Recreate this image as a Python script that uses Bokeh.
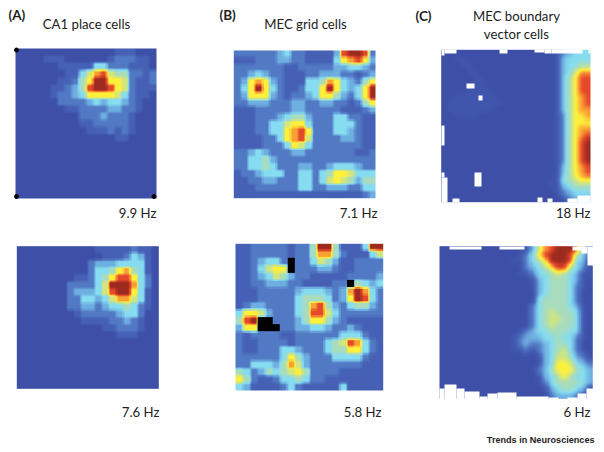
import numpy as np
from bokeh.core.properties import value
from bokeh.embed import file_html
from bokeh.models import LinearColorMapper, Range1d
from bokeh.plotting import figure
from bokeh.resources import INLINE

# Firing-rate maps: 0 (lowest) .. a (peak), k = black (no data)
A1 = ["00000000000000111000", "00001110000001222110", "00000011111442221110",
      "00000001146896552212", "00000011257aa7762112", "00000112359aa9762111",
      "00000122347777642110", "00000022223434432100", "00000001122223322100",
      "00000000022232221000", "00000000011222221000", "00000000001112121000",
      "00000000000000110000", "00000000000000000000", "00000000000000000000",
      "00000000000000000000", "00000000000000000000", "00000000000000000000",
      "00000000000000000000", "00000000000000000000", "00000000000000000000"]
A2 = ["00000000000111112110", "00000000000011124310", "00000000002333444410",
      "00000000002445785410", "00000000112457997420", "0000000222246aaa8420",
      "00000002333469aa7410", "00000002244346886410", "00000002233234454210",
      "00000000122222344200", "00000000011112232100", "00000000000011222100",
      "00000000000000111000", "00000000000000000000", "00000000000000000000",
      "00000000000000000000", "00000000000000000000", "00000000000000000000",
      "00000000000000000000", "00000000000000000000"]
B1 = ["2222223422111139aa92", "11122233221111478973", "22222221122222334432",
      "22343221112233322123", "23787321114458743257", "247a742112447a74347a",
      "2377732122347753247a", "22333222332233221257", "11122222332222211123",
      "11122234553222442211", "11122446774222444211", "11122447897222443211",
      "11112247896222233211", "11112224764222222211", "22343222332222222112",
      "22445322222222222222", "22445422233223444322", "12234442244245776444",
      "11223322244246765355", "11122222244223332244", "11111111111111111123"]
B2 = ["11222221225aa51114aa", "11222221225885211146", "1123442k224653112222",
      "1124677k222332112222", "11234653221111122223", "112233322111122k5434",
      "1112222234443238a842", "1112222245554237a942", "12332222458953245532",
      "47763222459964222222", "59akk222357753211111", "377kkk22334432232111",
      "21222211222222444211", "21122221222245698421", "21122244322245577421",
      "22222247532224444211", "22444358632222222111", "54235456752222111111",
      "75211244542211111111", "43111124211111411111"]
C1 = ["000000000000000000123444", "001100000000000000134444", "000110000000000000134455",
      "000011000000000000134688", "000001100000000000135799", "000001100000000000135799",
      "000011110000000000135799", "001111111000000000135789", "011111111100000000135789",
      "011111110000000000135788", "001111000000000000125778", "000000000000000000125777",
      "000000000000000000125788", "000000000000000000125789", "00000000000000000012579a",
      "00000000000000000012579a", "00000000000000000012579a", "00000000000000000012579a",
      "000000000000000000135789", "000000000000000000135789", "000000000000000001145677",
      "000000000000000001134555", "000000000000000000123444", "000000000000000000012333"]
C2 = ["000000000000013689aaa940", "00000000000012479aaa9632", "00000000000112457aaa9431",
      "000000000000023457995421", "000000000000112445654311", "000000000000001345554310",
      "000000000000001345554210", "000000000000000345554200", "000000000000000455554200",
      "000000000000002455554310", "000000000000002456555410", "000000000000002456655410",
      "000000000000002456555410", "000000000000123445554410", "000000000001233344544210",
      "000000000001232234554200", "000000000001121234564210", "000000000000000134665321",
      "000000000000000134776432", "000000000000000235777543", "000000000000000134575443",
      "000000000000000124555543", "000000000000000013455431", "000000000000000002333210"]

# Arena parts the animal never visited (white), left, top, right, bottom in page pixels
C1_GAPS = [(441, 49, 444, 55), (444, 49, 456, 53), (499, 49, 507, 53), (534, 49, 544, 52),
           (544, 49, 551, 53), (551, 49, 582, 53), (588, 49, 590, 53), (441, 125, 444, 145),
           (441, 172, 444, 177), (441, 177, 447, 202), (452, 198, 459, 202),
           (537, 197, 542, 202), (547, 198, 552, 202), (567, 198, 577, 202), (577, 195, 590, 202),
           (466, 83, 474, 88), (478, 95, 482, 100), (474, 172, 481, 186)]
C2_GAPS = [(449, 246, 481, 249), (499, 246, 524, 249), (572, 246, 581, 250),
           (581, 246, 587, 253), (587, 246, 593, 265), (439, 388, 444, 399), (444, 384, 456, 399),
           (456, 388, 464, 399), (464, 391, 479, 399), (479, 396, 487, 399), (487, 393, 497, 399),
           (497, 392, 516, 399), (516, 396, 548, 399), (548, 397, 558, 399), (567, 397, 577, 399),
           (577, 393, 586, 399), (586, 388, 593, 399)]

CORNER_X = [16, 16, 153.5]
CORNER_Y = [49.5, 196, 196]

ANCHORS = ["#3d4fa7", "#4560b4", "#5279c4", "#6fb0e2", "#86dcf0", "#a8dcbe",
           "#d2e67e", "#fff23a", "#f9a035", "#e6492b", "#9c2a1f"]
TITLES = [("CA1 place cells", 86, 23), ("MEC grid cells", 305, 23),
          ("MEC boundary", 516, 15), ("vector cells", 516, 33)]
TAGS = [("(A)", 8, 14), ("(B)", 219, 14), ("(C)", 415, 15)]
RATES = [("9.9 Hz", 156, 212), ("7.6 Hz", 159, 411), ("7.1 Hz", 377, 212),
         ("5.8 Hz", 381, 411), ("18 Hz", 590, 212), ("6 Hz", 590, 411)]
CREDIT = "Trends in Neurosciences"

W, H = 600, 448


def hex_rgb(c):
    return np.array([int(c[i:i + 2], 16) for i in (1, 3, 5)], dtype=float)


anchors = np.array([hex_rgb(c) for c in ANCHORS])
ramp = np.linspace(0, 10, 256)
palette = ["#%02x%02x%02x" % tuple(int(round(np.interp(t, range(11), anchors[:, i]))) for i in range(3))
           for t in ramp]
mapper = LinearColorMapper(palette=palette, low=0, high=10, high_color="#000000", nan_color="#ffffff")


def parse(rows):
    lookup = {"a": 10.0, "k": 99.0}
    return np.array([[lookup.get(ch, float(ch) if ch.isdigit() else 0.0) for ch in r] for r in rows])


def box(a, k):
    pad = np.pad(a, k, mode="edge")
    size = 2 * k + 1
    kernel = np.ones(size) / size
    out = np.apply_along_axis(lambda v: np.convolve(v, kernel, mode="valid"), 0, pad)
    return np.apply_along_axis(lambda v: np.convolve(v, kernel, mode="valid"), 1, out)


def soft_cells(grid, n=6, k=1):
    big = np.kron(grid, np.ones((n, n)))
    black = big > 50
    out = box(np.where(black, 2.0, big), k)
    out[black] = 99.0
    return out


def smooth(grid, n=6, k=2):
    g = np.where(grid <= 1, grid * 0.4, grid)
    rows, cols = g.shape
    xs = (np.arange(cols * n) + 0.5) / n - 0.5
    ys = (np.arange(rows * n) + 0.5) / n - 0.5
    across = np.array([np.interp(xs, np.arange(cols), r) for r in g])
    return box(np.array([np.interp(ys, np.arange(rows), c) for c in across.T]).T, k)


def Y(v):
    return H - np.asarray(v, dtype=float)


p = figure(width=W, height=H, output_backend="svg", toolbar_location=None,
           x_range=Range1d(0, W), y_range=Range1d(0, H), min_border=0)
p.axis.visible = False
p.grid.visible = False
p.outline_line_color = None
p.background_fill_color = "white"
p.border_fill_color = "white"


def panel(grid, x0, y0, x1, y1):
    p.image(image=[grid[::-1]], x=x0, y=float(Y(y1)), dw=x1 - x0, dh=y1 - y0, color_mapper=mapper)


panel(soft_cells(parse(A1)), 15, 48, 156, 198)
panel(soft_cells(parse(A2)), 16.3, 245.7, 158.3, 388.3)
panel(soft_cells(parse(B1)), 233.3, 50, 375, 197.7)
panel(soft_cells(parse(B2)), 235, 243.3, 382.7, 390)
panel(smooth(parse(C1)), 440.7, 49.3, 590, 201.7)
panel(smooth(parse(C2)), 439, 245.7, 592.3, 398.3)

gaps = C1_GAPS + C2_GAPS
p.quad(left=[g[0] for g in gaps], right=[g[2] for g in gaps], top=Y([g[1] for g in gaps]),
       bottom=Y([g[3] for g in gaps]), fill_color="white", line_color=None)
p.scatter(CORNER_X, Y(CORNER_Y), size=4, color="black")


def label(items, size, align, font="Lato", style="normal", color="#222222"):
    p.text([i[1] for i in items], Y([i[2] for i in items]), text=[i[0] for i in items],
           text_font=value(font), text_font_size=size, text_align=align, text_font_style=style,
           text_baseline="middle", text_color=color)


label(TITLES, "13.2px", "center")
label(TAGS, "13.5px", "left", style="bold")
label(RATES, "13.2px", "right")
label([(CREDIT, 594, 439)], "9.1px", "right", font="Liberation Sans", style="bold", color="#222222")

open("out.html", "w").write(file_html(p, INLINE))
